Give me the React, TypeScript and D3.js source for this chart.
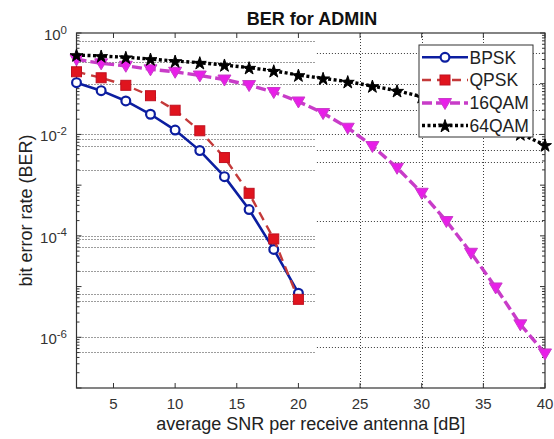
import React from "react";
import * as d3 from "d3";

const snrShort = [2, 4, 6, 8, 10, 12, 14, 16, 18, 20];
const snrLong = [2, 4, 6, 8, 10, 12, 14, 16, 18, 20, 22, 24, 26, 28, 30, 32, 34, 36, 38, 40];

const berBPSK = [0.105, 0.073, 0.0457, 0.025, 0.0122, 0.0048, 0.00147, 0.00033, 5.4e-5, 7.4e-6];
const berQPSK = [0.172, 0.131, 0.093, 0.058, 0.030, 0.0118, 0.0035, 0.00069, 8.7e-5, 5.6e-6];
const ber16QAM = [0.303, 0.252, 0.226, 0.192, 0.172, 0.145, 0.121, 0.094, 0.0686, 0.0446,
  0.0264, 0.01355, 0.0059, 0.0022, 0.000707, 0.000196, 4.64e-5, 9.6e-6, 1.8e-6, 4.8e-7];
const ber64QAM = [0.368, 0.352, 0.332, 0.307, 0.28, 0.26, 0.234, 0.207, 0.18, 0.148,
  0.128, 0.11, 0.09, 0.0728, 0.0554, 0.04, 0.026, 0.0165, 0.0102, 0.0062];

const xTicks = [5, 10, 15, 20, 25, 30, 35, 40];
const yTickExps = [0, -2, -4, -6];
const xGridValues = [25, 30, 35];
const gridLeft = [0.705, 0.272, 0.1, 0.01, 0.008, 0.0058, 0.002, 1e-4, 8.5e-5, 6.1e-5, 2.05e-5, 7.3e-6, 5.2e-6, 1e-6, 5.2e-7];
const gridRight = [0.398, 0.1, 0.0303, 0.01, 0.0049, 0.0029, 1.96e-4, 1e-6, 6.3e-7];
const gridSplit = 21.5;

const seriesNames = ["BPSK", "QPSK", "16QAM", "64QAM"];

const W = 554, H = 439;
const L = 76.5, R = 545, T = 33, B = 388;
const FONT = "'Liberation Sans', Arial, sans-serif";

export default function App() {
  const x = d3.scaleLinear().domain([2, 40]).range([L, R]);
  const y = d3.scaleLog().domain([1e-7, 1]).range([B, T]);

  const series = [
    { name: seriesNames[0], xs: snrShort, ys: berBPSK, color: "#0c1ea0", mColor: "#0c1ea0", width: 2.6, dash: "none", marker: "circle" },
    { name: seriesNames[1], xs: snrShort, ys: berQPSK, color: "#c43a3a", mColor: "#e0141e", width: 2.4, dash: "9,6", marker: "square" },
    { name: seriesNames[2], xs: snrLong, ys: ber16QAM, color: "#c83cc8", mColor: "#e81ee8", width: 3.4, dash: "10,4", marker: "tri" },
    { name: seriesNames[3], xs: snrLong, ys: ber64QAM, color: "#000000", mColor: "#000000", width: 3.4, dash: "3,2.5", marker: "star" },
  ];

  const line = d3.line<[number, number]>().x((d) => x(d[0])).y((d) => y(d[1]));
  const starPath = d3.symbol().type(d3.symbolStar).size(52)() as string;
  const triPath = "M-6.5,-4.5L6.5,-4.5L0,6.5Z";

  const marker = (kind: string, cx: number, cy: number, s: any, key: string) => {
    if (kind === "circle")
      return <circle key={key} cx={cx} cy={cy} r={4.4} fill="#ffffff" stroke={s.mColor} strokeWidth={2.2} />;
    if (kind === "square")
      return <rect key={key} x={cx - 5} y={cy - 5} width={10} height={10} fill={s.mColor} stroke="#c01020" strokeWidth={1} />;
    if (kind === "tri")
      return <path key={key} d={triPath} transform={`translate(${cx},${cy})`} fill={s.mColor} stroke={s.color} strokeWidth={1} />;
    return <path key={key} d={starPath} transform={`translate(${cx},${cy + 0.8})`} fill="#000" stroke="#000" strokeWidth={1} />;
  };

  const minorTicks: number[] = [];
  for (let e = -7; e < 0; e++) for (let m = 2; m <= 9; m++) minorTicks.push(m * Math.pow(10, e));
  const majorTicks = d3.range(-7, 1).map((e) => Math.pow(10, e));

  const split = x(gridSplit);
  const legX = 419, legY = 45, legW = 114, legH = 92;
  const legRows = [57.3, 80, 103, 125.5];

  return (
    <svg width={W} height={H} style={{ position: "absolute", left: 0, top: 0, background: "#fff" }} fontFamily={FONT}>
      <rect x={0} y={0} width={W} height={H} fill="#fff" />
      <rect x={L} y={T} width={R - L} height={B - T} fill="#fff" />
      {/* grid */}
      <g stroke="#3a3a3a" strokeWidth={1} strokeDasharray="1,2" fill="none">
        {gridLeft.map((v, i) => (
          <line key={"gl" + i} x1={L + 3} x2={split - 2} y1={Math.round(y(v)) + 0.5} y2={Math.round(y(v)) + 0.5} />
        ))}
        {gridRight.map((v, i) => (
          <line key={"gr" + i} x1={split} x2={R - 1} y1={Math.round(y(v)) + 0.5} y2={Math.round(y(v)) + 0.5} />
        ))}
        {xGridValues.map((v) => (
          <line key={"gx" + v} x1={Math.round(x(v)) + 0.5} x2={Math.round(x(v)) + 0.5} y1={T} y2={B} />
        ))}
      </g>
      {/* axes box */}
      <rect x={L} y={T} width={R - L} height={B - T} fill="none" stroke="#333" strokeWidth={1.2} />
      <g stroke="#333" strokeWidth={1}>
        {xTicks.map((t) => (
          <g key={"xt" + t}>
            <line x1={x(t)} x2={x(t)} y1={B} y2={B - 5} />
            <line x1={x(t)} x2={x(t)} y1={T} y2={T + 5} />
          </g>
        ))}
        {majorTicks.map((t, i) => (
          <g key={"yM" + i}>
            <line x1={L} x2={L + 5} y1={y(t)} y2={y(t)} />
            <line x1={R} x2={R - 5} y1={y(t)} y2={y(t)} />
          </g>
        ))}
        {minorTicks.map((t, i) => (
          <g key={"ym" + i}>
            <line x1={L} x2={L + 3} y1={y(t)} y2={y(t)} />
            <line x1={R} x2={R - 3} y1={y(t)} y2={y(t)} />
          </g>
        ))}
      </g>
      {/* tick labels */}
      <g fill="#333" fontSize={15}>
        {xTicks.map((t) => (
          <text key={"xl" + t} x={x(t)} y={409} textAnchor="middle">{t}</text>
        ))}
        {yTickExps.map((e) => (
          <text key={"yl" + e} x={67} y={y(Math.pow(10, e)) + 7} textAnchor="end">
            10<tspan dy={-6.5} fontSize={11.5}>{e === 0 ? "0" : "-" + Math.abs(e)}</tspan>
          </text>
        ))}
      </g>
      {/* series */}
      {series.map((s) => {
        const pts = s.xs.map((v, i) => [v, s.ys[i]] as [number, number]);
        return (
          <g key={s.name}>
            <path d={line(pts) as string} fill="none" stroke={s.color} strokeWidth={s.width} strokeDasharray={s.dash} />
            {pts.map((p, i) => marker(s.marker, x(p[0]), y(p[1]), s, s.name + i))}
          </g>
        );
      })}
      {/* legend */}
      <rect x={legX} y={legY} width={legW} height={legH} fill="#fff" stroke="#333" strokeWidth={1} />
      {series.map((s, i) => (
        <g key={"leg" + s.name}>
          <line x1={422} x2={468} y1={legRows[i]} y2={legRows[i]} stroke={s.color} strokeWidth={s.width} strokeDasharray={s.dash} />
          {marker(s.marker, 445, legRows[i], s, "lm" + i)}
          <text x={469.5} y={legRows[i]} dy="0.36em" fontSize={17.5} fill="#222">{s.name}</text>
        </g>
      ))}
      {/* titles */}
      <text x={312} y={25} textAnchor="middle" fontSize={18} fontWeight="bold" fill="#111">BER for ADMIN</text>
      <text x={(L + R) / 2} y={430} textAnchor="middle" fontSize={18} fill="#222">average SNR per receive antenna [dB]</text>
      <text transform={`translate(31.5,${(T + B) / 2}) rotate(-90)`} textAnchor="middle" fontSize={18} fill="#222">bit error rate (BER)</text>
    </svg>
  );
}
